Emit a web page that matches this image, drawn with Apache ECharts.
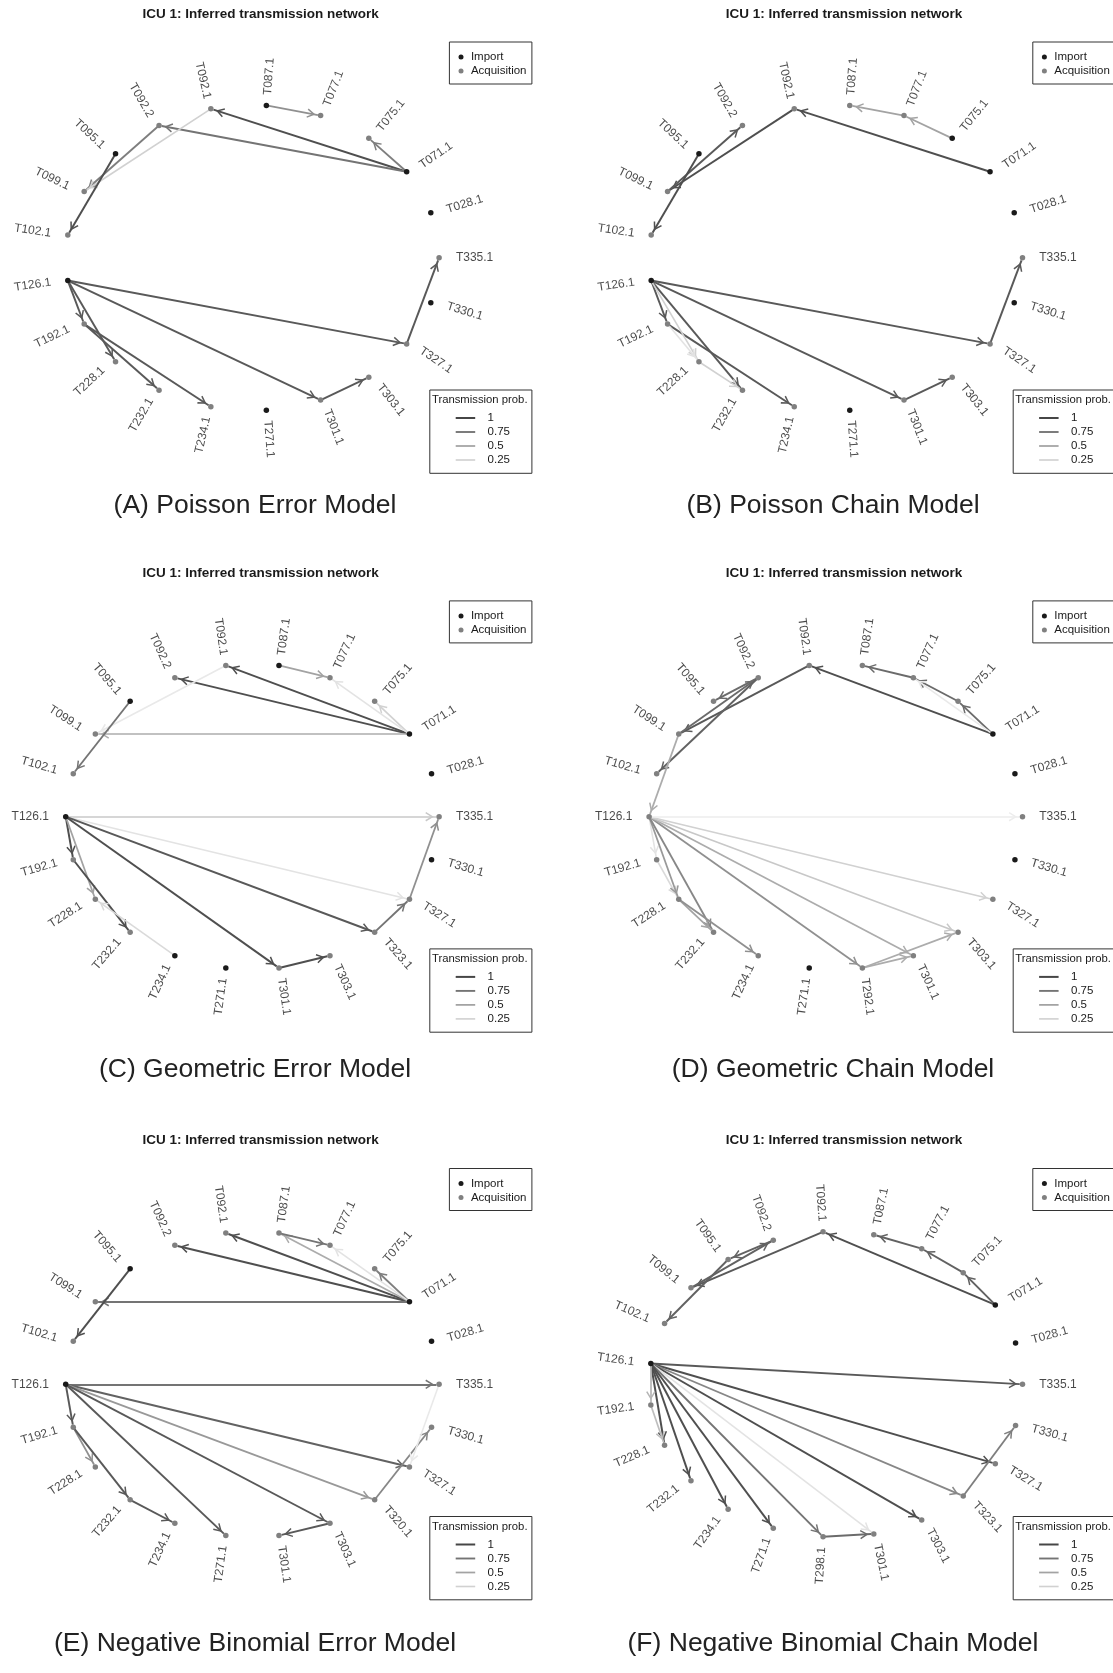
<!DOCTYPE html>
<html>
<head>
<meta charset="utf-8">
<script src="https://cdn.jsdelivr.net/npm/echarts@6/dist/echarts.min.js"></script>
<style>
  html, body { margin: 0; padding: 0; background: #fff; }
  #main { width: 1113px; height: 1673px; }
</style>
</head>
<body>
<div id="main"></div>
<script>
// ---- data ----
// node order = position on the circle, counter-clockwise from the right (3 o'clock)
const nodesA = ['T335.1','T028.1','T071.1','T075.1','T077.1','T087.1','T092.1','T092.2','T095.1','T099.1','T102.1',
  'T126.1','T192.1','T228.1','T232.1','T234.1','T271.1','T301.1','T303.1','T327.1','T330.1'];
const importsA = ['T028.1','T071.1','T087.1','T095.1','T126.1','T271.1','T330.1'];
const edgesA = [
  ['T071.1','T092.1',0.95], ['T071.1','T092.2',0.75], ['T071.1','T075.1',0.7], ['T087.1','T077.1',0.6],
  ['T092.2','T099.1',0.7], ['T092.1','T099.1',0.25], ['T095.1','T102.1',0.95],
  ['T126.1','T327.1',0.9], ['T327.1','T335.1',0.9], ['T126.1','T301.1',0.9], ['T301.1','T303.1',0.9],
  ['T126.1','T192.1',0.9], ['T126.1','T228.1',0.9], ['T192.1','T232.1',0.9], ['T192.1','T234.1',0.9]
];

const nodesB = nodesA;
const importsB = ['T028.1','T071.1','T075.1','T095.1','T126.1','T271.1','T330.1'];
const edgesB = [
  ['T071.1','T092.1',0.95], ['T075.1','T077.1',0.5], ['T077.1','T087.1',0.5],
  ['T092.1','T099.1',0.95], ['T099.1','T092.2',0.9], ['T095.1','T102.1',0.95],
  ['T126.1','T327.1',0.9], ['T327.1','T335.1',0.9], ['T126.1','T301.1',0.9], ['T301.1','T303.1',0.9],
  ['T126.1','T192.1',0.9], ['T126.1','T232.1',0.9], ['T192.1','T234.1',0.9],
  ['T126.1','T228.1',0.25], ['T228.1','T232.1',0.25], ['T192.1','T228.1',0.15]
];

const nodesC = ['T335.1','T028.1','T071.1','T075.1','T077.1','T087.1','T092.1','T092.2','T095.1','T099.1','T102.1',
  'T126.1','T192.1','T228.1','T232.1','T234.1','T271.1','T301.1','T303.1','T323.1','T327.1','T330.1'];
const importsC = ['T028.1','T071.1','T087.1','T095.1','T126.1','T234.1','T271.1','T330.1'];
const edgesC = [
  ['T071.1','T092.1',0.95], ['T071.1','T092.2',0.95], ['T071.1','T099.1',0.45], ['T071.1','T075.1',0.25],
  ['T071.1','T077.1',0.15], ['T087.1','T077.1',0.5], ['T092.1','T099.1',0.12], ['T095.1','T102.1',0.75],
  ['T126.1','T335.1',0.3], ['T126.1','T327.1',0.15], ['T126.1','T323.1',0.9], ['T126.1','T301.1',0.95],
  ['T126.1','T192.1',0.95], ['T126.1','T228.1',0.5], ['T192.1','T232.1',0.95], ['T234.1','T228.1',0.2],
  ['T301.1','T303.1',0.95], ['T323.1','T327.1',0.75], ['T327.1','T335.1',0.6]
];

const nodesD = ['T335.1','T028.1','T071.1','T075.1','T077.1','T087.1','T092.1','T092.2','T095.1','T099.1','T102.1',
  'T126.1','T192.1','T228.1','T232.1','T234.1','T271.1','T292.1','T301.1','T303.1','T327.1','T330.1'];
const importsD = ['T028.1','T071.1','T271.1','T330.1'];
const edgesD = [
  ['T071.1','T092.1',0.95], ['T071.1','T075.1',0.8], ['T075.1','T077.1',0.8], ['T077.1','T087.1',0.8],
  ['T071.1','T077.1',0.12], ['T092.1','T099.1',0.9], ['T099.1','T092.2',0.8], ['T092.2','T095.1',0.8],
  ['T092.2','T102.1',0.85], ['T099.1','T126.1',0.45],
  ['T126.1','T192.1',0.15], ['T192.1','T228.1',0.2], ['T126.1','T228.1',0.55], ['T126.1','T232.1',0.65],
  ['T228.1','T232.1',0.5], ['T228.1','T234.1',0.6], ['T126.1','T292.1',0.6], ['T126.1','T301.1',0.45],
  ['T126.1','T303.1',0.3], ['T126.1','T327.1',0.25], ['T126.1','T335.1',0.1],
  ['T292.1','T301.1',0.45], ['T292.1','T303.1',0.45]
];

const nodesE = ['T335.1','T028.1','T071.1','T075.1','T077.1','T087.1','T092.1','T092.2','T095.1','T099.1','T102.1',
  'T126.1','T192.1','T228.1','T232.1','T234.1','T271.1','T301.1','T303.1','T320.1','T327.1','T330.1'];
const importsE = ['T028.1','T071.1','T095.1','T126.1'];
const edgesE = [
  ['T071.1','T092.1',0.95], ['T071.1','T092.2',0.95], ['T071.1','T099.1',0.75], ['T071.1','T075.1',0.7],
  ['T071.1','T087.1',0.45], ['T087.1','T077.1',0.75], ['T071.1','T077.1',0.15], ['T095.1','T102.1',0.95],
  ['T126.1','T335.1',0.75], ['T126.1','T327.1',0.85], ['T126.1','T320.1',0.55], ['T126.1','T303.1',0.9],
  ['T126.1','T271.1',0.9], ['T126.1','T192.1',0.9], ['T192.1','T228.1',0.6], ['T192.1','T232.1',0.9],
  ['T232.1','T234.1',0.9], ['T303.1','T301.1',0.9], ['T320.1','T330.1',0.65], ['T335.1','T327.1',0.12]
];

const nodesF = ['T335.1','T028.1','T071.1','T075.1','T077.1','T087.1','T092.1','T092.2','T095.1','T099.1','T102.1',
  'T126.1','T192.1','T228.1','T232.1','T234.1','T271.1','T298.1','T301.1','T303.1','T323.1','T327.1','T330.1'];
const importsF = ['T028.1','T071.1','T126.1'];
const edgesF = [
  ['T071.1','T092.1',0.95], ['T071.1','T075.1',0.85], ['T075.1','T077.1',0.85], ['T077.1','T087.1',0.85],
  ['T092.1','T099.1',0.9], ['T099.1','T092.2',0.85], ['T092.2','T095.1',0.85], ['T095.1','T102.1',0.85],
  ['T126.1','T335.1',0.9], ['T126.1','T327.1',0.95], ['T126.1','T323.1',0.65], ['T126.1','T303.1',0.95],
  ['T126.1','T301.1',0.15], ['T126.1','T298.1',0.75], ['T126.1','T271.1',0.95], ['T126.1','T234.1',0.95],
  ['T126.1','T232.1',0.95], ['T126.1','T228.1',0.95], ['T126.1','T192.1',0.4], ['T192.1','T228.1',0.35],
  ['T298.1','T301.1',0.8], ['T323.1','T330.1',0.7]
];

const probTicks = [1, 0.75, 0.5, 0.25];
const captions = ['(A) Poisson Error Model', '(B) Poisson Chain Model', '(C) Geometric Error Model',
  '(D) Geometric Chain Model', '(E) Negative Binomial Error Model', '(F) Negative Binomial Chain Model'];
const plotTitle = 'ICU 1: Inferred transmission network';

// ---- layout ----
const FONT = 'Liberation Sans, Arial, Helvetica, sans-serif';
const RX = 186.7, RY = 152.8, PAD = 1.3, LABEL_R = 1.19;
const colX = [252.4, 835.8];
const rowY = [257.8, 816.7, 1384.3];
const capX = [255, 833];
const capY = [506, 1070, 1644];
const IMPORT_COL = '#1a1a1a', ACQ_COL = '#808080';
const ARROW = 'path://M10 -29.9 M10 0 L20 17 L17.2 18.6 L10 6.3 L2.8 18.6 L0 17 Z';

const panels = [
  [nodesA, importsA, edgesA], [nodesB, importsB, edgesB],
  [nodesC, importsC, edgesC], [nodesD, importsD, edgesD],
  [nodesE, importsE, edgesE], [nodesF, importsF, edgesF]
];

function probColor(p) {
  const v = Math.round(255 - 185 * p);
  return 'rgb(' + v + ',' + v + ',' + v + ')';
}

const grids = [], xAxes = [], yAxes = [], series = [], graphics = [];

panels.forEach(function (pn, k) {
  const nodes = pn[0], imports = pn[1], edges = pn[2];
  const cx = colX[k % 2], cy = rowY[Math.floor(k / 2)];
  grids.push({ left: cx - RX * PAD, top: cy - RY * PAD, width: 2 * RX * PAD, height: 2 * RY * PAD, show: false });
  xAxes.push({ gridIndex: k, type: 'value', min: -PAD, max: PAD, show: false });
  yAxes.push({ gridIndex: k, type: 'value', min: -PAD, max: PAD, show: false });

  const n = nodes.length;
  const nodeData = nodes.map(function (name, i) {
    const a = 2 * Math.PI * i / n;
    return {
      name: name,
      value: [Math.cos(a), Math.sin(a)],
      itemStyle: { color: imports.indexOf(name) >= 0 ? IMPORT_COL : ACQ_COL }
    };
  });
  const labelData = nodes.map(function (name, i) {
    const a = 2 * Math.PI * i / n;
    let deg = a * 180 / Math.PI;
    if (deg > 180) deg -= 360;
    const rot = Math.cos(a) >= -1e-9 ? deg : deg - 180;
    return { name: name, value: [LABEL_R * Math.cos(a), LABEL_R * Math.sin(a)], label: { rotate: rot } };
  });
  const links = edges.map(function (e) {
    return { source: e[0], target: e[1], lineStyle: { color: probColor(e[2]), width: 1.5 + 0.5 * e[2] } };
  });

  series.push({
    type: 'graph',
    coordinateSystem: 'cartesian2d',
    xAxisIndex: k, yAxisIndex: k,
    data: nodeData,
    links: links,
    symbolSize: 5.5,
    edgeSymbol: ['none', ARROW],
    edgeSymbolSize: [1, [9.5, 22]],
    lineStyle: { opacity: 1, curveness: 0 },
    label: { show: false },
    emphasis: { disabled: true },
    silent: true,
    z: 2
  });
  series.push({
    type: 'scatter',
    xAxisIndex: k, yAxisIndex: k,
    data: labelData,
    symbolSize: 1,
    itemStyle: { color: 'rgba(0,0,0,0)' },
    label: {
      show: true, position: 'inside', formatter: '{b}', align: 'center', verticalAlign: 'middle',
      color: '#1a1a1a', fontSize: 12, fontFamily: FONT
    },
    silent: true,
    z: 3
  });

  // title
  graphics.push({
    type: 'text', x: cx + 8.2, y: cy - 243.8,
    style: { text: plotTitle, font: 'bold 13.5px ' + FONT, fill: '#1a1a1a', align: 'center', verticalAlign: 'middle' }
  });
  // node-type legend
  graphics.push({
    type: 'rect', shape: { x: cx + 197, y: cy - 215.8, width: 82.5, height: 42 },
    style: { fill: '#fff', stroke: '#333', lineWidth: 1 }
  });
  [['Import', IMPORT_COL, -200.8], ['Acquisition', ACQ_COL, -186.8]].forEach(function (it) {
    graphics.push({ type: 'circle', shape: { cx: cx + 208.6, cy: cy + it[2], r: 2.5 }, style: { fill: it[1] } });
    graphics.push({
      type: 'text', x: cx + 218.5, y: cy + it[2],
      style: { text: it[0], font: '11.5px ' + FONT, fill: '#1a1a1a', verticalAlign: 'middle' }
    });
  });
  // probability legend
  graphics.push({
    type: 'rect', shape: { x: cx + 177.4, y: cy + 132.2, width: 102.1, height: 83.3 },
    style: { fill: '#fff', stroke: '#333', lineWidth: 1 }
  });
  graphics.push({
    type: 'text', x: cx + 179.5, y: cy + 142.2,
    style: { text: 'Transmission prob.', font: '11.3px ' + FONT, fill: '#1a1a1a', verticalAlign: 'middle' }
  });
  probTicks.forEach(function (p, j) {
    const yy = cy + 160.2 + 14 * j;
    graphics.push({
      type: 'line', shape: { x1: cx + 203.3, y1: yy, x2: cx + 222.8, y2: yy },
      style: { stroke: probColor(p), lineWidth: 1.5 + 0.5 * p }
    });
    graphics.push({
      type: 'text', x: cx + 235.2, y: yy,
      style: { text: String(p), font: '11.5px ' + FONT, fill: '#1a1a1a', verticalAlign: 'middle' }
    });
  });
  // caption
  graphics.push({
    type: 'text', x: capX[k % 2], y: capY[Math.floor(k / 2)],
    style: { text: captions[k], font: '26.5px ' + FONT, fill: '#222', align: 'center', verticalAlign: 'middle' }
  });
});

const chart = echarts.init(document.getElementById('main'), null, { renderer: 'canvas' });
chart.setOption({
  animation: false,
  backgroundColor: '#fff',
  grid: grids,
  xAxis: xAxes,
  yAxis: yAxes,
  series: series,
  graphic: { elements: graphics }
});
</script>
</body>
</html>
